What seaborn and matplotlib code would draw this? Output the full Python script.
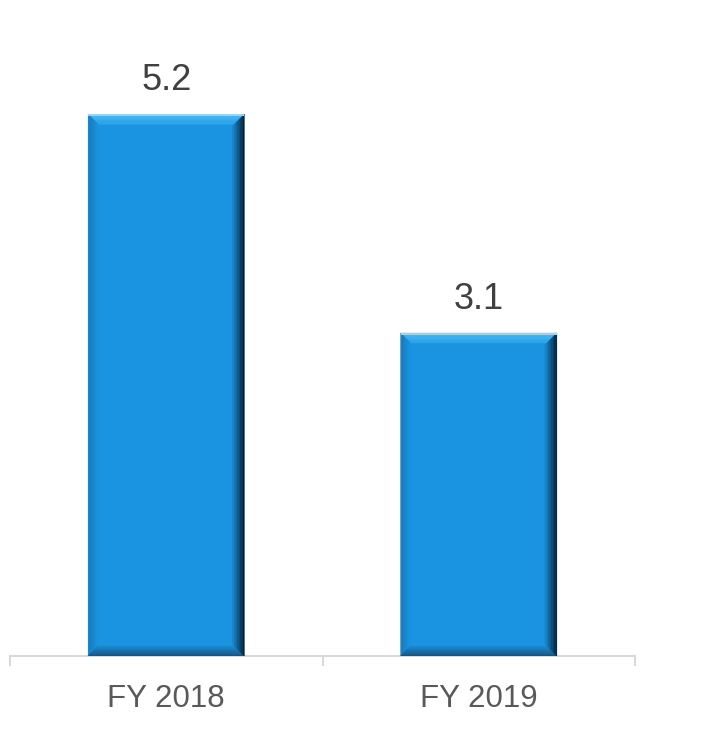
import matplotlib
matplotlib.use("Agg")
import matplotlib.pyplot as plt
import seaborn as sns
import pandas as pd
import numpy as np
from matplotlib.patches import Polygon
from matplotlib.transforms import IdentityTransform

categories = ["FY 2018", "FY 2019"]
values = [5.2, 3.1]
value_labels = ["5.2", "3.1"]

sns.set_theme(style="white")
plt.rcParams['font.family'] = ['Liberation Sans', 'DejaVu Sans']

df = pd.DataFrame({"cat": categories, "val": values})

fig = plt.figure(figsize=(7.27, 7.32), dpi=100)
ax = fig.add_axes([10/727, 76/732, 625/727, 646/732])

fill = "#1a94e0"
sns.barplot(data=df, x="cat", y="val", color=fill, width=0.5, saturation=1,
            ax=ax, zorder=2)

ax.set_xlim(-0.5, 1.5)
ax.set_ylim(0, 6.2)
ax.set_xlabel("")
ax.set_ylabel("")
ax.set_yticks([])
for s in ["top", "right", "left"]:
    ax.spines[s].set_visible(False)
ax.spines["bottom"].set_color("#d9d9d9")
ax.spines["bottom"].set_linewidth(1.5)
ax.set_xticks([-0.5, 0.5, 1.5], minor=False)
ax.set_xticklabels([])
ax.set_xticks([0, 1], minor=True)
ax.set_xticklabels(categories, minor=True)
ax.tick_params(axis="x", which="major", length=7.5, width=1.5, color="#d9d9d9",
               bottom=True)
ax.tick_params(axis="x", which="minor", length=0, pad=20, labelsize=22.5,
               labelcolor="#595959", bottom=True)

fig.canvas.draw()

def mix(c1, c2, t):
    a = np.array(matplotlib.colors.to_rgb(c1))
    b = np.array(matplotlib.colors.to_rgb(c2))
    return tuple(a * (1 - t) + b * t)

def bevel(x0, y0, x1, y1, side, w, c_in, c_out, n=8):
    # side: 'top','bottom','left','right'; gradient from inner edge (c_in) to outer (c_out)
    for i in range(n):
        ta = i / n          # 0 = outer
        tb = (i + 1) / n
        da = w * ta
        db = w * tb
        col = mix(c_out, c_in, (ta + tb) / 2)
        if side == "top":
            pts = [(x0 + da, y1 - da), (x1 - da, y1 - da), (x1 - db, y1 - db), (x0 + db, y1 - db)]
        elif side == "bottom":
            pts = [(x0 + da, y0 + da), (x1 - da, y0 + da), (x1 - db, y0 + db), (x0 + db, y0 + db)]
        elif side == "left":
            pts = [(x0 + da, y1 - da), (x0 + db, y1 - db), (x0 + db, y0 + db), (x0 + da, y0 + da)]
        else:
            pts = [(x1 - da, y1 - da), (x1 - db, y1 - db), (x1 - db, y0 + db), (x1 - da, y0 + da)]
        ax.add_patch(Polygon(pts, closed=True, transform=IdentityTransform(),
                             facecolor=col, edgecolor=col, linewidth=0.3, zorder=3))

for p, lab in zip(ax.patches, value_labels):
    bb = p.get_window_extent()
    x0, y0, x1, y1 = bb.x0, bb.y0, bb.x1, bb.y1
    bevel(x0, y0, x1, y1, "top", 10, "#2aa3ea", "#4fbdf7")
    bevel(x0, y0, x1, y1, "left", 10, "#1a94e0", "#1478bb")
    bevel(x0, y0, x1, y1, "bottom", 10, "#1a8ad2", "#1a4f78")
    bevel(x0, y0, x1, y1, "right", 12, "#1a8ad0", "#06192b")
    # thin light line along top edge
    ax.add_patch(Polygon([(x0, y1), (x1, y1), (x1, y1 - 1.5), (x0, y1 - 1.5)],
                         closed=True, transform=IdentityTransform(),
                         facecolor="#9ad4f5", edgecolor="none", zorder=3.5))
    ax.annotate(lab, (p.get_x() + p.get_width() / 2, p.get_height()),
                xytext=(0, 16), textcoords="offset pixels",
                ha="center", va="bottom", fontsize=26, color="#404040")

fig.savefig("out.png", dpi=100)
